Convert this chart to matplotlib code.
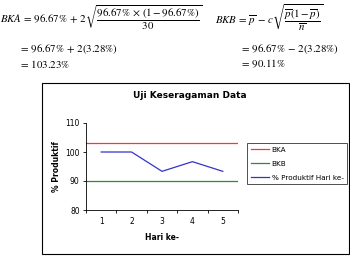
import matplotlib.pyplot as plt
from matplotlib.patches import Rectangle

hari = [1, 2, 3, 4, 5]
produktif = [100, 100, 93.33, 96.67, 93.33]
bka = 103.23
bkb = 90.11

plt.rcParams['mathtext.fontset'] = 'stix'
fig = plt.figure(figsize=(3.5, 2.57), dpi=100)

# formulas above the chart
fs = 7.8
fig.text(0.0, 0.93, r'$BKA\,=\,96.67\%\,+\,2\sqrt{\dfrac{96.67\%\,\times\,(1-96.67\%)}{30}}$',
         fontsize=fs, va='center', ha='left')
fig.text(19 / 350, 0.81, r'$=\,96.67\%\,+\,2(3.28\%)$', fontsize=fs, va='center')
fig.text(19 / 350, 0.75, r'$=\,103.23\%$', fontsize=fs, va='center')
fig.text(215 / 350, 0.93, r'$BKB\,=\,\overline{p}\,-\,c\sqrt{\dfrac{\overline{p}(1-\overline{p})}{\overline{n}}}$',
         fontsize=fs, va='center', ha='left')
fig.text(240 / 350, 0.81, r'$=\,96.67\%\,-\,2(3.28\%)$', fontsize=fs, va='center')
fig.text(240 / 350, 0.75, r'$=\,90.11\%$', fontsize=fs, va='center')

# chart frame
fig.patches.append(Rectangle((42 / 350, 1 - 254 / 257), 307 / 350, 171 / 257,
                             transform=fig.transFigure, fill=False, ec='black', lw=0.8))

ax = fig.add_axes([86 / 350, 1 - 210 / 257, 152 / 350, 87 / 257])
ax.plot([0.5, 5.5], [bka, bka], color='#ff3333', lw=0.9, label='BKA')
ax.plot([0.5, 5.5], [bkb, bkb], color='#2e8b2e', lw=0.9, label='BKB')
ax.plot(hari, produktif, color='#3333cc', lw=0.9, label='% Produktif Hari ke-')
ax.set_xlim(0.5, 5.5)
ax.set_ylim(80, 110)
ax.set_yticks([80, 90, 100, 110])
ax.set_xticks(hari)
ax.set_xticks([0.5, 1.5, 2.5, 3.5, 4.5, 5.5], minor=True)
ax.tick_params(axis='x', which='major', length=0, labelsize=5.5, pad=5)
ax.tick_params(axis='x', which='minor', length=2.5, width=0.6)
ax.tick_params(axis='y', length=2.5, width=0.6, labelsize=5.5, pad=2)
for s in ['top', 'right']:
    ax.spines[s].set_visible(False)
for s in ['left', 'bottom']:
    ax.spines[s].set_linewidth(0.6)
ax.set_xlabel('Hari ke-', fontsize=5.5, fontweight='bold', labelpad=5)
ax.set_ylabel('% Produktif', fontsize=5.5, fontweight='bold', labelpad=3)
fig.text(190 / 350, 1 - 96 / 257, 'Uji Keseragaman Data', fontsize=6.5,
         fontweight='bold', ha='center', va='center')

leg = fig.legend(loc='upper left', bbox_to_anchor=(247 / 350, 1 - 143 / 257),
                 fontsize=5.2, frameon=True, fancybox=False, edgecolor='black',
                 handlelength=2.6, borderpad=0.5, labelspacing=1.1, handletextpad=0.3,
                 borderaxespad=0)
leg.get_frame().set_linewidth(0.6)

fig.savefig('out.png', dpi=100)
